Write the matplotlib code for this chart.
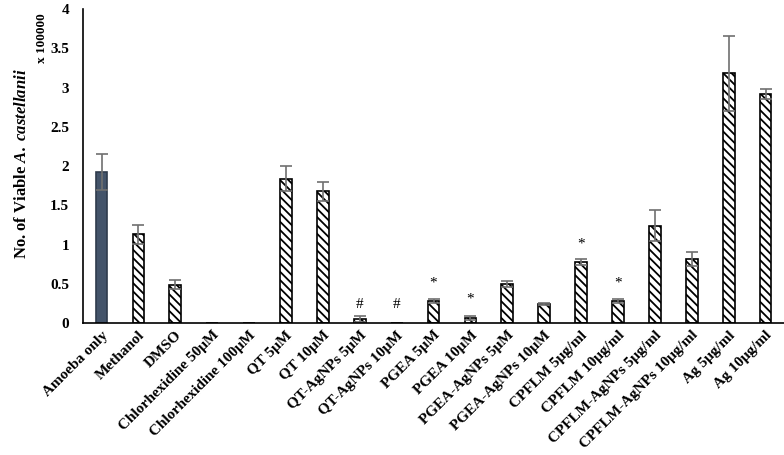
import numpy as np
import matplotlib
import matplotlib.pyplot as plt

plt.rcParams['font.family'] = 'Liberation Serif'
plt.rcParams['font.weight'] = 'bold'
plt.rcParams['mathtext.fontset'] = 'custom'
plt.rcParams['mathtext.bfit'] = 'Liberation Serif:italic:bold'
plt.rcParams['mathtext.rm'] = 'Liberation Serif:bold'
plt.rcParams['hatch.linewidth'] = 1.3

categories = ["Amoeba only", "Methanol", "DMSO", "Chlorhexidine 50μM", "Chlorhexidine 100μM",
              "QT 5μM", "QT 10μM", "QT-AgNPs 5μM", "QT-AgNPs 10μM", "PGEA 5μM", "PGEA 10μM",
              "PGEA-AgNPs 5μM", "PGEA-AgNPs 10μM", "CPFLM 5μg/ml", "CPFLM 10μg/ml",
              "CPFLM-AgNPs 5μg/ml", "CPFLM-AgNPs 10μg/ml", "Ag 5μg/ml", "Ag 10μg/ml"]
values = [1.93, 1.13, 0.49, 0, 0, 1.84, 1.68, 0.05, 0, 0.28, 0.065,
          0.50, 0.24, 0.78, 0.28, 1.24, 0.815, 3.18, 2.92]
errors = [0.23, 0.12, 0.06, 0, 0, 0.16, 0.12, 0.04, 0, 0.03, 0.02,
          0.04, 0.01, 0.04, 0.03, 0.20, 0.085, 0.48, 0.06]
# significance marks: (category index, symbol, height)
marks = [(7, "#", 0.23), (8, "#", 0.23), (9, "*", 0.51), (10, "*", 0.31),
         (13, "*", 1.01), (14, "*", 0.51)]

fig = plt.figure(figsize=(7.84, 4.55), dpi=100)
ax = fig.add_axes([0.106, 0.290, 0.894, 0.690])

x = np.arange(len(categories))
colors = ['#44546A'] + ['white'] * (len(categories) - 1)
hatches = [''] + ['\\\\\\\\'] * (len(categories) - 1)
bars = ax.bar(x, values, width=0.32, color=colors, edgecolor='black', linewidth=1.2)
for b, h in zip(bars, hatches):
    b.set_hatch(h)
bars[0].set_edgecolor('#2F3B4C')

nz = [i for i in x if values[i] > 0]
ax.errorbar([x[i] for i in nz], [values[i] for i in nz], yerr=[errors[i] for i in nz],
            fmt='none', ecolor='#707070', elinewidth=1.2, capsize=4, capthick=1.2)

for i, s, h in marks:
    ax.text(x[i], h, s, ha='center', va='center', fontsize=11, fontweight='normal')

ax.set_xlim(-0.5, len(categories) - 0.5)
ax.set_ylim(0, 4)
ax.set_yticks(np.arange(0, 4.01, 0.5))
ax.set_yticklabels(['0', '0.5', '1', '1.5', '2', '2.5', '3', '3.5', '4'])
ax.set_xticks(x)
ax.set_xticklabels(categories, rotation=45, ha='right', rotation_mode='anchor', fontsize=11)
ax.tick_params(axis='both', length=0)
ax.tick_params(axis='y', pad=10, labelsize=11)
ax.tick_params(axis='x', pad=4)
for s in ['top', 'right']:
    ax.spines[s].set_visible(False)
ax.spines['left'].set_linewidth(1.2)
ax.spines['bottom'].set_linewidth(1.2)

fig.text(0.028, 0.64, r'No. of Viable $\mathbfit{A.\,castellanii}$', rotation=90,
         ha='center', va='center', fontsize=12)
fig.text(0.053, 0.916, 'x 100000', rotation=90, ha='center', va='center', fontsize=9.5)

fig.savefig('out.png', dpi=100)
